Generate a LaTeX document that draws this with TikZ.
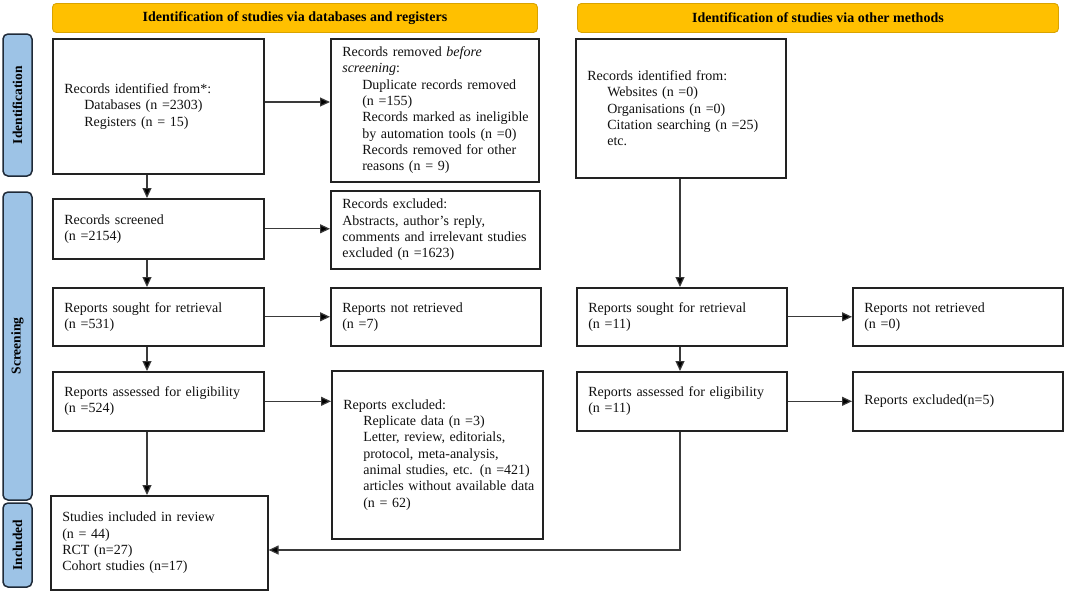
\documentclass[tikz,border=0pt]{standalone}
\usepackage{fontspec}
\setmainfont{Liberation Serif}
\usetikzlibrary{arrows.meta}
\definecolor{boxc}{HTML}{222222}
\definecolor{txt}{HTML}{111111}
\definecolor{hdrf}{HTML}{FFC000}
\definecolor{hdrb}{HTML}{D9A300}
\definecolor{sidef}{HTML}{9DC3E6}
\definecolor{sideb}{HTML}{1F2A38}
\definecolor{arrc}{HTML}{3A3A3A}
\newcommand{\indt}{\hspace*{20pt}}
\begin{document}
\begin{tikzpicture}[x=1pt,y=-1pt,
  box/.style={draw=boxc, line width=1.6pt, fill=white, inner xsep=11.5pt, inner ysep=0pt,
    align=left, anchor=north west, text=txt, font=\fontsize{14}{16.3}\selectfont},
  hdr/.style={draw=hdrb, fill=hdrf, rounded corners=4pt, line width=0.9pt, anchor=north west,
    text=black, font=\bfseries\fontsize{14}{16}\selectfont, minimum height=29pt, inner sep=0pt},
  side/.style={draw=sideb, fill=sidef, rounded corners=5pt, line width=1.5pt, rotate=90,
    minimum height=29pt, inner sep=0pt, text=black, font=\bfseries\fontsize{13.5}{15}\selectfont},
  arr/.style={draw=arrc, line width=1.2pt, -{Triangle[length=10pt,width=9pt,fill=black]}}]
\useasboundingbox (0,0) rectangle (1065,592);
\fill[white] (0,0) rectangle (1065,592);

% headers
\node[hdr, minimum width=485pt] (h1) at (52,3) {Identification of studies via databases and registers};
\node[hdr, minimum width=481pt] (h2) at (577,3) {Identification of studies via other methods};

% side labels
\node[side, minimum width=142pt] (s1) at (17.5,105) {Identification};
\node[side, minimum width=308pt] (s2) at (17.5,346) {Screening};
\node[side, minimum width=84pt] (s3) at (17.5,545) {Included};

% left column
\node[box, minimum width=211pt, minimum height=135pt, text width=188pt] (b1) at (52,38)
  {Records identified from*:\\ \indt Databases (n =2303)\\ \indt Registers (n = 15)};
\node[box, minimum width=208pt, minimum height=143pt, text width=185pt] (b2) at (330,38)
  {Records removed \textit{before}\\ \textit{screening}:\\ \indt Duplicate records removed\\ \indt (n =155)\\
   \indt\mbox{Records marked as ineligible}\\ \indt by automation tools (n =0)\\ \indt Records removed for other\\ \indt reasons (n = 9)};
\node[box, minimum width=211pt, minimum height=60pt, text width=188pt] (b3) at (52,198)
  {Records screened\\ (n =2154)};
\node[box, minimum width=209pt, minimum height=78pt, text width=186pt] (b4) at (330,190)
  {Records excluded:\\ Abstracts, author’s reply,\\ \mbox{comments and irrelevant studies}\\ excluded (n =1623)};
\node[box, minimum width=211pt, minimum height=58pt, text width=188pt] (b5) at (52,287)
  {Reports sought for retrieval\\ (n =531)};
\node[box, minimum width=210pt, minimum height=58pt, text width=187pt] (b6) at (330,287)
  {Reports not retrieved\\ (n =7)};
\node[box, minimum width=211pt, minimum height=59pt, text width=188pt] (b7) at (52,371)
  {Reports assessed for eligibility\\ (n =524)};
\node[box, minimum width=211pt, minimum height=168pt, text width=188pt] (b8) at (331,370)
  {Reports excluded:\\ \indt Replicate data (n =3)\\ \indt Letter, review, editorials,\\ \indt protocol, meta-analysis,\\
   \indt\mbox{animal studies, etc. (n =421)}\\ \indt\mbox{articles without available data}\\ \indt (n = 62)};
\node[box, minimum width=217pt, minimum height=94pt, text width=194pt] (b9) at (50,495)
  {Studies included in review\\ (n = 44)\\ RCT (n=27)\\ Cohort studies (n=17)};

% right column
\node[box, minimum width=210pt, minimum height=139pt, text width=187pt] (r1) at (575,38)
  {Records identified from:\\ \indt Websites (n =0)\\ \indt Organisations (n =0)\\ \indt Citation searching (n =25)\\ \indt etc.};
\node[box, minimum width=210pt, minimum height=58pt, text width=187pt] (r2) at (576,287)
  {Reports sought for retrieval\\ (n =11)};
\node[box, minimum width=210pt, minimum height=58pt, text width=187pt] (r3) at (852,287)
  {Reports not retrieved\\ (n =0)};
\node[box, minimum width=210pt, minimum height=59pt, text width=187pt] (r4) at (576,371)
  {Reports assessed for eligibility\\ (n =11)};
\node[box, minimum width=210pt, minimum height=59pt, text width=187pt] (r5) at (852,371)
  {Reports excluded(n=5)};

% connectors
\coordinate (lx) at (147,0);
\coordinate (rx) at (680,0);
\coordinate (ay) at (0,102);
\coordinate (by) at (0,550);
\draw[arr] (b1.south -| lx) -- (b3.north -| lx);
\draw[arr] (b3.south -| lx) -- (b5.north -| lx);
\draw[arr] (b5.south -| lx) -- (b7.north -| lx);
\draw[arr] (b7.south -| lx) -- (b9.north -| lx);
\draw[arr] (b1.east |- ay) -- (b2.west |- ay);
\draw[arr] (b3.east) -- (b3.east -| b4.west);
\draw[arr] (b5.east) -- (b5.east -| b6.west);
\draw[arr] (b7.east) -- (b7.east -| b8.west);
\draw[arr] (r1.south -| rx) -- (r2.north -| rx);
\draw[arr] (r2.south -| rx) -- (r4.north -| rx);
\draw[arr] (r2.east) -- (r2.east -| r3.west);
\draw[arr] (r4.east) -- (r4.east -| r5.west);
\draw[arr] (r4.south -| rx) -- (rx |- by) -- (b9.east |- by);
\end{tikzpicture}
\end{document}
